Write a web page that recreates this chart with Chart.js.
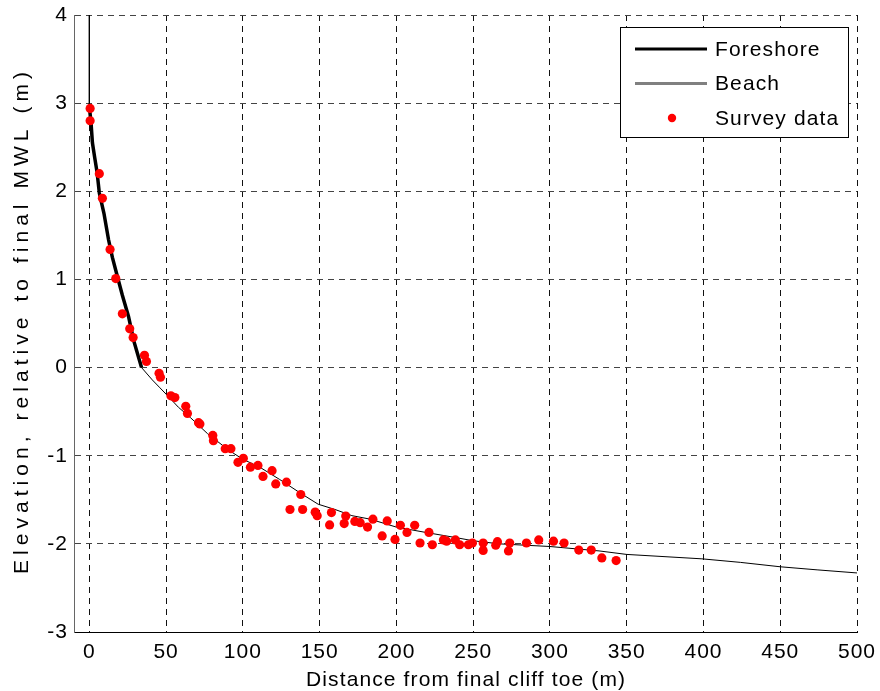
<!DOCTYPE html>
<html>
<head>
<meta charset="utf-8">
<script src="https://cdn.jsdelivr.net/npm/chart.js@4.4.0/dist/chart.umd.min.js"></script>
<style>
  html, body { margin: 0; padding: 0; background: #fff; }
  #myCanvas { display: block; }
</style>
</head>
<body>
<canvas id="myCanvas" width="880" height="691"></canvas>
<script>
// survey points (distance m, elevation m)
const surveyX = [0.5, 0.5, 6.5, 8.5, 13.5, 17.2, 21.5, 26.3, 28.5, 35.9, 37.2, 45.4, 46.3, 53.1, 55.7,
  62.8, 63.9, 71.1, 72.0, 80.4, 80.8, 88.5, 92.2, 96.8, 100.3, 104.9, 109.8, 113.1, 119.0, 121.4,
  128.4, 137.7, 130.7, 138.9, 147.1, 148.4, 157.7, 156.5, 167.0, 166.0, 172.9, 176.4, 181.2, 184.7,
  194.0, 190.7, 199.1, 202.6, 206.9, 211.9, 215.4, 221.2, 223.4, 230.6, 232.7, 238.4, 241.2, 246.9,
  249.5, 256.5, 256.5, 264.7, 265.8, 273.0, 273.8, 284.7, 292.7, 302.3, 309.2, 318.8, 326.9, 333.8, 343.1];
const surveyY = [2.94, 2.80, 2.20, 1.92, 1.34, 1.01, 0.61, 0.44, 0.34, 0.14, 0.07, -0.065, -0.11, -0.32, -0.34,
  -0.44, -0.52, -0.625, -0.64, -0.77, -0.83, -0.92, -0.92, -1.075, -1.03, -1.13, -1.11, -1.235, -1.17, -1.32,
  -1.30, -1.44, -1.61, -1.61, -1.64, -1.68, -1.645, -1.785, -1.685, -1.77, -1.745, -1.76, -1.81, -1.72,
  -1.74, -1.91, -1.95, -1.79, -1.87, -1.79, -1.99, -1.87, -2.01, -1.955, -1.97, -1.955, -2.01, -2.01,
  -1.99, -1.99, -2.075, -2.015, -1.975, -2.08, -1.99, -1.99, -1.955, -1.97, -1.99, -2.07, -2.07, -2.16, -2.19];

// foreshore (upper steep part)
const foreshoreX = [0, 1, 2, 3.5, 5, 6.5, 9.5, 12.5, 15, 18, 21.5, 25.5, 29, 31, 34];
const foreshoreY = [2.95, 2.8, 2.55, 2.38, 2.22, 1.98, 1.75, 1.45, 1.25, 1.05, 0.82, 0.58, 0.3, 0.18, 0];

// beach line (legend only)
const beachX = [];
const beachY = [];

// full final profile (thin line)
const profileX = [0, 0, 1, 2, 3.5, 5, 6.5, 9.5, 12.5, 15, 18, 21.5, 25.5, 29, 31, 34, 41, 46, 51, 58, 66,
  77, 91, 100, 111, 124, 138, 149, 160, 171, 183, 200, 219, 239, 250, 267, 300, 332, 350, 399, 424, 450, 474, 500];
const profileY = [4, 2.95, 2.8, 2.55, 2.38, 2.22, 1.98, 1.75, 1.45, 1.25, 1.05, 0.82, 0.58, 0.3, 0.18, 0, -0.14,
  -0.23, -0.32, -0.45, -0.57, -0.75, -0.94, -1.04, -1.13, -1.27, -1.43, -1.55, -1.61, -1.68, -1.72, -1.81,
  -1.87, -1.93, -1.965, -2.0, -2.03, -2.08, -2.12, -2.17, -2.21, -2.26, -2.295, -2.33];

const xTicks = [0, 50, 100, 150, 200, 250, 300, 350, 400, 450, 500];
const yTicks = [-3, -2, -1, 0, 1, 2, 3, 4];

const xTitle = 'Distance from final cliff toe (m)';
const yTitle = 'Elevation, relative to final MWL (m)';

function pts(xs, ys) {
  return xs.map((x, i) => ({ x: x, y: ys[i] }));
}

const FONT = 'Arial, "Liberation Sans", Helvetica, sans-serif';

// text spread out to a given width
function spreadText(ctx, text, cx, cy, width) {
  ctx.letterSpacing = '0px';
  const w0 = ctx.measureText(text).width;
  const sp = Math.max(0, (width - w0) / (text.length - 1));
  ctx.letterSpacing = sp + 'px';
  ctx.textAlign = 'left';
  ctx.textBaseline = 'middle';
  ctx.fillText(text, cx - width / 2, cy);
  ctx.letterSpacing = '0px';
}

// slightly wider glyph spacing for all chart text
const textSpacing = {
  id: 'textSpacing',
  beforeDraw(chart) { chart.ctx.letterSpacing = '1px'; },
  afterDraw(chart) { chart.ctx.letterSpacing = '0px'; }
};

// axis titles
const axisTitles = {
  id: 'axisTitles',
  afterDraw(chart) {
    const ctx = chart.ctx;
    const ca = chart.chartArea;
    ctx.save();
    ctx.fillStyle = '#000';
    ctx.font = '21px ' + FONT;
    spreadText(ctx, xTitle, (ca.left + ca.right) / 2, 680, 319);
    ctx.translate(22, 323);
    ctx.rotate(-Math.PI / 2);
    spreadText(ctx, yTitle, 0, 0, 502);
    ctx.restore();
  }
};

// legend box drawn inside the plot area, top right
const boxLegend = {
  id: 'boxLegend',
  afterDraw(chart) {
    const ctx = chart.ctx;
    const ca = chart.chartArea;
    const right = ca.right - 9, top = ca.top + 12;
    const w = 228, h = 110;
    const left = right - w;
    ctx.save();
    ctx.letterSpacing = '1.1px';
    ctx.fillStyle = '#fff';
    ctx.fillRect(left, top, w, h);
    ctx.strokeStyle = '#000';
    ctx.lineWidth = 1;
    ctx.strokeRect(left + 0.5, top + 0.5, w, h);
    ctx.font = '21px ' + FONT;
    ctx.textBaseline = 'middle';
    ctx.textAlign = 'left';
    [0, 1, 2].forEach((di, i) => {
      const ds = chart.data.datasets[di];
      const y = top + 22 + i * 34.5;
      if (ds.showLine) {
        ctx.strokeStyle = ds.borderColor;
        ctx.lineWidth = 3;
        ctx.beginPath();
        ctx.moveTo(left + 15, y);
        ctx.lineTo(left + 87, y);
        ctx.stroke();
      } else {
        ctx.fillStyle = ds.backgroundColor;
        ctx.beginPath();
        ctx.arc(left + 52, y, 4.2, 0, Math.PI * 2);
        ctx.fill();
      }
      ctx.fillStyle = '#000';
      ctx.fillText(ds.label, left + 95, y + 1);
    });
    ctx.restore();
  }
};

const config = {
  type: 'scatter',
  data: {
    datasets: [
      {
        label: 'Foreshore',
        data: pts(foreshoreX, foreshoreY),
        showLine: true,
        borderColor: '#000',
        borderWidth: 3.5,
        pointRadius: 0,
        order: 2
      },
      {
        label: 'Beach',
        data: pts(beachX, beachY),
        showLine: true,
        borderColor: '#808080',
        borderWidth: 3,
        pointRadius: 0,
        order: 3
      },
      {
        label: 'Survey data',
        data: pts(surveyX, surveyY),
        showLine: false,
        backgroundColor: '#ff0000',
        borderWidth: 0,
        pointRadius: 4.6,
        order: 0
      },
      {
        label: 'profile',
        data: pts(profileX, profileY),
        showLine: true,
        borderColor: '#000',
        borderWidth: 1,
        pointRadius: 0,
        order: 1
      }
    ]
  },
  options: {
    responsive: false,
    animation: false,
    devicePixelRatio: 1,
    layout: { padding: { top: 15, right: 23, left: 0, bottom: 0 } },
    plugins: { legend: { display: false }, tooltip: { enabled: false } },
    scales: {
      x: {
        type: 'linear',
        min: -10,
        max: 500,
        afterBuildTicks: s => { s.ticks = xTicks.map(v => ({ value: v })); },
        afterFit: s => { s.height = 59; s.paddingLeft = 0; s.paddingRight = 0; },
        grid: { color: '#111', lineWidth: 1, drawTicks: false },
        border: { display: true, color: '#000', width: 1, dash: [6, 5] },
        ticks: { color: '#000', font: { family: FONT, size: 21 }, padding: 8, maxRotation: 0 }
      },
      y: {
        type: 'linear',
        min: -3,
        max: 4,
        afterBuildTicks: s => { s.ticks = yTicks.map(v => ({ value: v })); },
        afterFit: s => { s.width = 74; s.paddingTop = 0; s.paddingBottom = 0; },
        grid: { color: '#444', lineWidth: 1, drawTicks: false },
        border: { display: true, color: '#666', width: 1, dash: [6, 5] },
        ticks: { color: '#000', font: { family: FONT, size: 21 }, padding: 6 }
      }
    }
  },
  plugins: [textSpacing, axisTitles, boxLegend]
};

const myChart = new Chart(document.getElementById('myCanvas'), config);
</script>
</body>
</html>
